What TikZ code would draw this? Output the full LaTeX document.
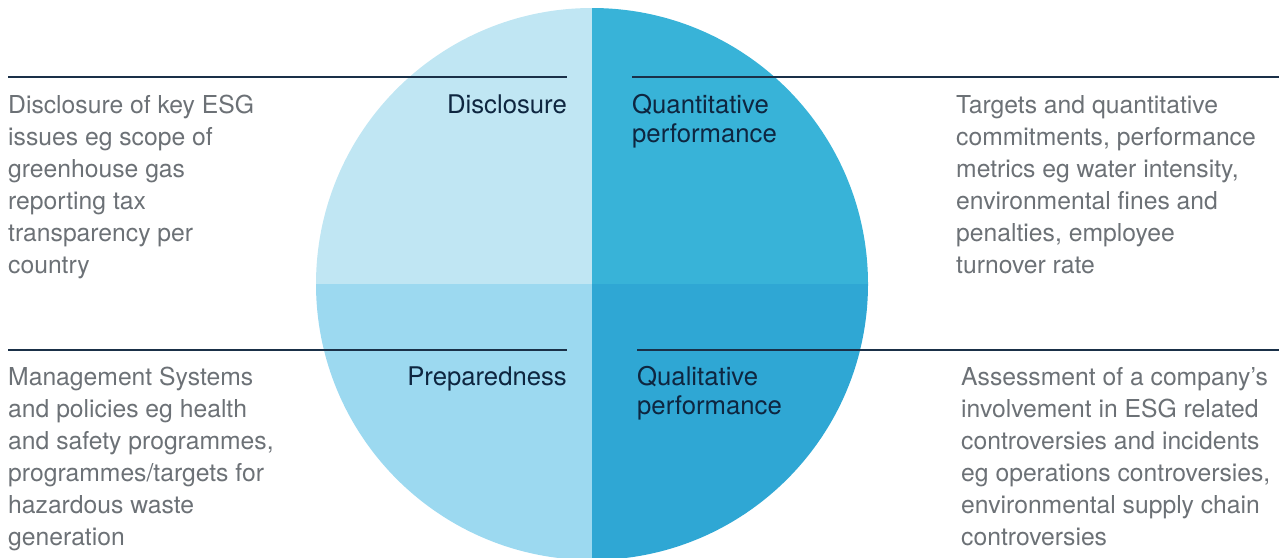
\documentclass[tikz,border=0pt]{standalone}
\usepackage{fontspec}
\setmainfont{TeX Gyre Heros}
\definecolor{qtl}{RGB}{192,230,243}
\definecolor{qtr}{RGB}{56,179,216}
\definecolor{qbl}{RGB}{156,217,240}
\definecolor{qbr}{RGB}{47,167,212}
\definecolor{rulec}{RGB}{26,48,72}
\definecolor{labelc}{RGB}{14,38,64}
\definecolor{bodyc}{RGB}{108,113,118}
\tikzset{
  rulebar/.style={draw=rulec, line width=1.8pt},
  quadlabel/.style={inner sep=0pt, text=labelc, align=left, font=\fontsize{25.7}{29}\selectfont},
  bodytext/.style={inner sep=0pt, text=bodyc, align=left, font=\fontsize{24.7}{32}\selectfont},
}
\begin{document}
\begin{tikzpicture}[x=1pt,y=-1pt]
\useasboundingbox (0,0) rectangle (1279,557);
\clip (0,0) rectangle (1279,557);
\coordinate (c) at (592,284);
\begin{scope}
  \clip (c) circle[radius=276pt];
  \fill[qtl] (300,0) rectangle (592,284);
  \fill[qtr] (592,0) rectangle (880,284);
  \fill[qbl] (300,284) rectangle (592,570);
  \fill[qbr] (592,284) rectangle (880,570);
\end{scope}
% rules
\coordinate (tlA) at (8,77);   \coordinate (tlB) at (567,77);
\coordinate (trA) at (632,77); \coordinate (trB) at (1279,77);
\coordinate (blA) at (8,350);  \coordinate (blB) at (567,350);
\coordinate (brA) at (637,350);\coordinate (brB) at (1279,350);
\draw[rulebar] (tlA) -- (tlB);
\draw[rulebar] (trA) -- (trB);
\draw[rulebar] (blA) -- (blB);
\draw[rulebar] (brA) -- (brB);
% quadrant labels (base anchor = baseline of last line)
\node[quadlabel, anchor=base east] (disc) at (567,113) {Disclosure};
\node[quadlabel, anchor=base west] (quant) at (632,142) {Quantitative\\performance};
\node[quadlabel, anchor=base east] (prep) at (567,385) {Preparedness};
\node[quadlabel, anchor=base west] (qual) at (637,414) {Qualitative\\performance};
% body texts
\node[bodytext, anchor=base west] (tltext) at (8,273) {Disclosure of key ESG\\issues eg scope of\\greenhouse gas\\reporting tax\\transparency per\\country};
\node[bodytext, anchor=base west] (trtext) at (956,273) {Targets and quantitative\\commitments, performance\\metrics eg water intensity,\\environmental fines and\\penalties, employee\\turnover rate};
\node[bodytext, anchor=base west] (bltext) at (8,545) {Management Systems\\and policies eg health\\and safety programmes,\\programmes/targets for\\hazardous waste\\generation};
\node[bodytext, anchor=base west] (brtext) at (961,545) {Assessment of a company’s\\involvement in ESG related\\controversies and incidents\\eg operations controversies,\\environmental supply chain\\controversies};
\end{tikzpicture}
\end{document}
